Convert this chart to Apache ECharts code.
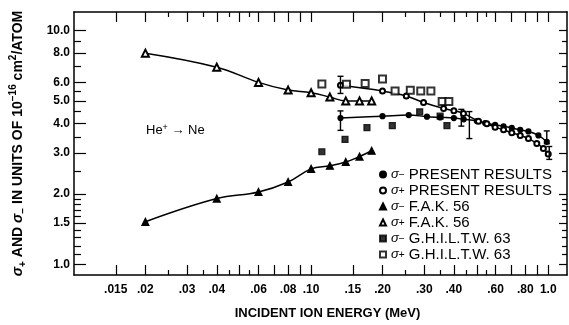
<!DOCTYPE html>
<html>
<head>
<meta charset="utf-8">
<script src="https://cdn.jsdelivr.net/npm/echarts@6/dist/echarts.min.js"></script>
<style>
  html, body { margin: 0; padding: 0; background: #fff; }
  #chart { width: 569px; height: 325px; }
</style>
</head>
<body>
<div id="chart"></div>
<script>
// tick values and labels
const xMajorTicks = [0.015, 0.02, 0.03, 0.04, 0.05, 0.06, 0.07, 0.08, 0.09, 0.10, 0.15, 0.20, 0.30, 0.40, 0.50, 0.60, 0.70, 0.80, 0.90, 1.0];
const xMinorTicks = [0.025, 0.035, 0.045, 0.055, 0.25, 0.35, 0.45, 0.55];
const xLabelValues = [0.015, 0.02, 0.03, 0.04, 0.06, 0.08, 0.10, 0.15, 0.20, 0.30, 0.40, 0.60, 0.80, 1.0];
const xLabelTexts = ['.015', '.02', '.03', '.04', '.06', '.08', '.10', '.15', '.20', '.30', '.40', '.60', '.80', '1.0'];
const yMajorTicks = [1, 1.5, 2, 3, 4, 5, 6, 8, 10];
const yMinorTicks = [1.1, 1.2, 1.3, 1.4, 1.6, 1.7, 1.8, 1.9, 2.5, 3.5, 4.5, 5.5, 7, 9];
const yLabelTexts = ['1.0', '1.5', '2.0', '3.0', '4.0', '5.0', '6.0', '8.0', '10.0'];

// present results
const presentMinusE = [0.133, 0.200, 0.258, 0.308, 0.35, 0.40, 0.44, 0.50, 0.542, 0.597, 0.648, 0.702, 0.762, 0.825, 0.909, 0.986];
const presentMinus = [4.22, 4.30, 4.35, 4.28, 4.25, 4.22, 4.17, 4.10, 4.02, 3.95, 3.89, 3.83, 3.76, 3.70, 3.56, 3.34];
const presentPlusE = [0.133, 0.200, 0.252, 0.298, 0.362, 0.40, 0.439, 0.508, 0.551, 0.597, 0.648, 0.702, 0.762, 0.825, 0.895, 0.954, 1.0];
const presentPlus = [5.83, 5.51, 5.25, 4.92, 4.64, 4.54, 4.42, 4.09, 3.99, 3.86, 3.76, 3.65, 3.56, 3.45, 3.29, 3.13, 2.96];

// F.A.K. 56
const fakE = [0.02, 0.04, 0.06, 0.08, 0.10, 0.12, 0.14, 0.16, 0.18];
const fakMinus = [1.52, 1.91, 2.04, 2.25, 2.56, 2.64, 2.74, 2.89, 3.06];
const fakPlus = [8.0, 6.97, 6.0, 5.56, 5.42, 5.19, 5.0, 5.0, 5.0];

// G.H.I.L.T.W. 63
const ghiltwMinusE = [0.111, 0.139, 0.172, 0.220, 0.287, 0.35, 0.374];
const ghiltwMinus = [3.03, 3.42, 3.84, 3.92, 4.49, 4.30, 3.92];
const ghiltwPlusE = [0.111, 0.141, 0.169, 0.200, 0.226, 0.262, 0.29, 0.32, 0.357, 0.381];
const ghiltwPlus = [5.91, 5.89, 5.93, 6.21, 5.51, 5.55, 5.51, 5.51, 4.97, 4.97];

// error bars
const errE = [0.133, 0.133, 0.43, 0.465, 0.986, 1.01];
const errLow = [3.74, 5.38, 3.90, 3.45, 3.28, 2.81];
const errHigh = [4.53, 6.37, 4.60, 4.50, 3.72, 3.19];

const lg = Math.log10;
const pairs = (xs, ys) => xs.map((x, i) => [lg(x), lg(ys[i])]);
const FONT = "'Liberation Sans', Arial, sans-serif";

const chart = echarts.init(document.getElementById('chart'));

const xMin = lg(0.01), xMax = lg(1.2);
const yMin = lg(0.9), yMax = lg(12);

function xAxisOf(pos, ticks, len, main) {
  return {
    type: 'value', position: pos, min: xMin, max: xMax, scale: true,
    axisLine: { show: main, onZero: false, lineStyle: { color: '#000', width: 1.5 } },
    axisTick: { show: true, inside: true, length: len, customValues: ticks.map(lg), lineStyle: { color: '#000', width: 1.2 } },
    axisLabel: { show: false },
    splitLine: { show: false }
  };
}
function yAxisOf(pos, ticks, len, main) {
  return {
    type: 'value', position: pos, min: yMin, max: yMax, scale: true,
    axisLine: { show: main, onZero: false, lineStyle: { color: '#000', width: 1.5 } },
    axisTick: { show: true, inside: true, length: len, customValues: ticks.map(lg), lineStyle: { color: '#000', width: 1.2 } },
    axisLabel: { show: false },
    splitLine: { show: false }
  };
}

const xBottom = xAxisOf('bottom', xMajorTicks, 10, true);
xBottom.axisLabel = {
  show: true, margin: 9, color: '#000', fontFamily: FONT, fontWeight: 'bold', fontSize: 12,
  customValues: xLabelValues.map(lg),
  formatter: v => { const i = xLabelValues.findIndex(t => Math.abs(lg(t) - v) < 1e-6); return i < 0 ? '' : xLabelTexts[i]; }
};
xBottom.name = 'INCIDENT ION ENERGY (MeV)';
xBottom.nameLocation = 'middle';
xBottom.nameGap = 32;
xBottom.nameTextStyle = { color: '#000', fontFamily: FONT, fontWeight: 'bold', fontSize: 13, padding: [0, 0, 0, 14] };

const yLeft = yAxisOf('left', yMajorTicks, 12, true);
yLeft.axisLabel = {
  show: true, margin: 4, color: '#000', fontFamily: FONT, fontWeight: 'bold', fontSize: 12,
  customValues: yMajorTicks.map(lg),
  formatter: v => { const i = yMajorTicks.findIndex(t => Math.abs(lg(t) - v) < 1e-6); return i < 0 ? '' : yLabelTexts[i]; }
};
yLeft.name = '{s|σ}{sb|+}{t| AND }{s|σ}{sb|−}{t| IN UNITS OF 10}{sp|−16}{t| cm}{sp|2}{t|/ATOM}';
yLeft.nameLocation = 'middle';
yLeft.nameRotate = 90;
yLeft.nameGap = 46;
yLeft.nameTextStyle = {
  color: '#000', fontFamily: FONT, fontWeight: 'bold', fontSize: 14,
  rich: {
    t: { fontFamily: FONT, fontWeight: 'bold', fontSize: 14, lineHeight: 20, verticalAlign: 'middle' },
    s: { fontFamily: FONT, fontStyle: 'italic', fontSize: 14, lineHeight: 20, verticalAlign: 'middle' },
    sb: { fontFamily: FONT, fontWeight: 'bold', fontSize: 10, lineHeight: 10, verticalAlign: 'bottom' },
    sp: { fontFamily: FONT, fontWeight: 'bold', fontSize: 10, lineHeight: 10, verticalAlign: 'top' }
  }
};

const legendData = [
  { name: 'σ− PRESENT RESULTS', icon: 'circle' },
  { name: 'σ+ PRESENT RESULTS', icon: 'emptyCircle' },
  { name: 'σ− F.A.K. 56', icon: 'triangle' },
  { name: 'σ+ F.A.K. 56', icon: 'emptyTriangle' },
  { name: 'σ− G.H.I.L.T.W. 63', icon: 'rect' },
  { name: 'σ+ G.H.I.L.T.W. 63', icon: 'emptyRect' }
];

const lineStyle = { color: '#000', width: 1.5 };
const blk = { color: '#000', borderColor: '#000', borderWidth: 1.2 };

const option = {
  animation: false,
  backgroundColor: '#fff',
  grid: { left: 70, right: 2, top: 12, bottom: 47 },
  xAxis: [
    xBottom,
    xAxisOf('bottom', xMinorTicks, 5, false),
    xAxisOf('top', xMajorTicks, 10, true),
    xAxisOf('top', xMinorTicks, 5, false)
  ],
  yAxis: [
    yLeft,
    yAxisOf('left', yMinorTicks, 7, false),
    yAxisOf('right', yMajorTicks, 8, true),
    yAxisOf('right', yMinorTicks, 5, false)
  ],
  legend: {
    orient: 'vertical', left: 374, top: 162, itemWidth: 6, itemHeight: 6, itemGap: 1,
    selectedMode: false,
    data: legendData,
    formatter: name => '{s|σ}{sb|' + name[1] + '}{t| ' + name.slice(3) + '}',
    textStyle: {
      color: '#000',
      rich: {
        t: { fontFamily: FONT, fontSize: 15, lineHeight: 12, color: '#000', verticalAlign: 'middle' },
        s: { fontFamily: FONT, fontStyle: 'italic', fontSize: 13, lineHeight: 12, color: '#000', verticalAlign: 'middle' },
        sb: { fontFamily: FONT, fontSize: 10, lineHeight: 8, color: '#000', verticalAlign: 'bottom' }
      }
    }
  },
  graphic: [{
    type: 'text', left: 146, top: 123,
    style: {
      text: '{t|He}{sp|+}{t| → Ne}',
      rich: {
        t: { fontFamily: FONT, fontSize: 13, lineHeight: 14, fill: '#000', verticalAlign: 'bottom' },
        sp: { fontFamily: FONT, fontSize: 9, lineHeight: 14, fill: '#000', verticalAlign: 'top' }
      }
    }
  }],
  series: [
    {
      name: 'σ− PRESENT RESULTS', type: 'line', smooth: 0.4, data: pairs(presentMinusE, presentMinus),
      symbol: 'circle', symbolSize: 5, lineStyle, itemStyle: blk, z: 3
    },
    {
      name: 'σ+ PRESENT RESULTS', type: 'line', smooth: 0.4, data: pairs(presentPlusE, presentPlus),
      symbol: 'emptyCircle', symbolSize: 5, lineStyle, itemStyle: blk, z: 3
    },
    {
      name: 'σ− F.A.K. 56', type: 'line', smooth: 0.4, data: pairs(fakE, fakMinus),
      symbol: 'triangle', symbolSize: 7, lineStyle, itemStyle: blk, z: 3
    },
    {
      name: 'σ+ F.A.K. 56', type: 'line', smooth: 0.4, data: pairs(fakE, fakPlus),
      symbol: 'emptyTriangle', symbolSize: 7, lineStyle, itemStyle: blk, z: 3
    },
    {
      name: 'σ− G.H.I.L.T.W. 63', type: 'scatter', data: pairs(ghiltwMinusE, ghiltwMinus),
      symbol: 'rect', symbolSize: 6, itemStyle: blk, z: 4
    },
    {
      name: 'σ+ G.H.I.L.T.W. 63', type: 'scatter', data: pairs(ghiltwPlusE, ghiltwPlus),
      symbol: 'emptyRect', symbolSize: 7, itemStyle: blk, z: 4
    },
    {
      type: 'custom', z: 5,
      data: errE.map((e, i) => [lg(e), lg(errLow[i]), lg(errHigh[i])]),
      encode: { x: 0, y: [1, 2] },
      renderItem: (params, api) => {
        const lo = api.coord([api.value(0), api.value(1)]);
        const hi = api.coord([api.value(0), api.value(2)]);
        const w = 3;
        const st = { stroke: '#000', lineWidth: 1.4 };
        return {
          type: 'group',
          children: [
            { type: 'line', shape: { x1: lo[0], y1: lo[1], x2: hi[0], y2: hi[1] }, style: st },
            { type: 'line', shape: { x1: lo[0] - w, y1: lo[1], x2: lo[0] + w, y2: lo[1] }, style: st },
            { type: 'line', shape: { x1: hi[0] - w, y1: hi[1], x2: hi[0] + w, y2: hi[1] }, style: st }
          ]
        };
      }
    }
  ]
};

chart.setOption(option);
</script>
</body>
</html>
